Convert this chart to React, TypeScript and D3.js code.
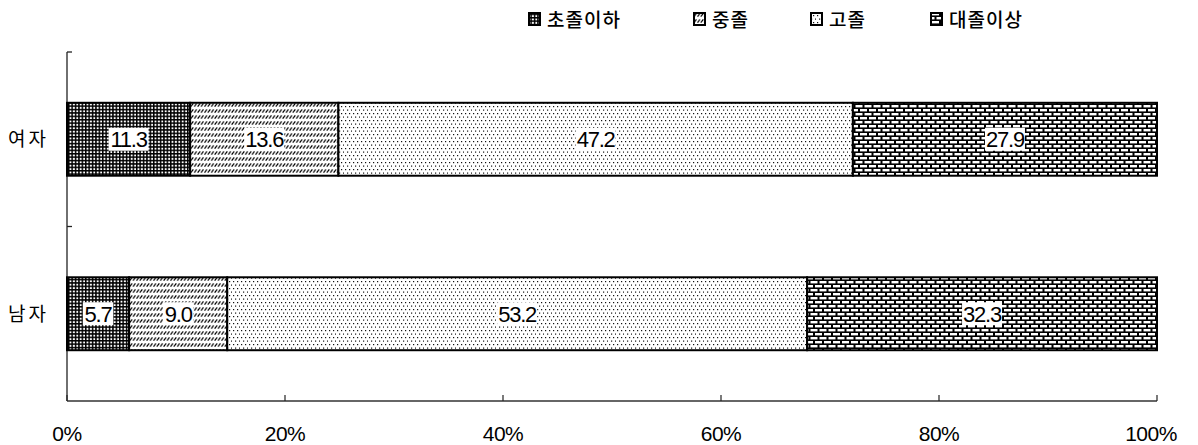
import React, { useEffect, useRef } from "react";
import * as d3 from "d3";

const categories = ["여자", "남자"];
const levels = ["초졸이하", "중졸", "고졸", "대졸이상"];
const femaleValues = [11.3, 13.6, 47.2, 27.9];
const maleValues = [5.7, 9.0, 53.2, 32.3];
const tickValues = [0, 20, 40, 60, 80, 100];

const seriesByCategory: Record<string, number[]> = {
  여자: femaleValues,
  남자: maleValues,
};

const patternIds = ["pat-grid", "pat-diag", "pat-dots", "pat-brick"];
const legendX = [529, 694, 811, 931];

const App: React.FC = () => {
  const ref = useRef<SVGSVGElement | null>(null);
  const width = 1198;
  const height = 445;

  useEffect(() => {
    const svg = d3.select(ref.current);
    svg.selectAll("*").remove();

    const defs = svg.append("defs");

    // 초졸이하: dense black grid with white holes
    const p1 = defs
      .append("pattern")
      .attr("id", patternIds[0])
      .attr("patternUnits", "userSpaceOnUse")
      .attr("width", 3.4)
      .attr("height", 3.4);
    p1.append("rect").attr("width", 3.4).attr("height", 3.4).attr("fill", "#000");
    p1.append("rect").attr("x", 1.5).attr("y", 1.5).attr("width", 1.9).attr("height", 1.9).attr("fill", "#fff");

    // 중졸: rows of short diagonal strokes
    const p2 = defs
      .append("pattern")
      .attr("id", patternIds[1])
      .attr("patternUnits", "userSpaceOnUse")
      .attr("width", 3.4)
      .attr("height", 6);
    p2.append("rect").attr("width", 3.4).attr("height", 6).attr("fill", "#fff");
    p2.append("path")
      .attr("d", "M0.5,4.6 L2.9,1.4")
      .attr("stroke", "#000")
      .attr("stroke-width", 1.2);

    // 고졸: sparse dots
    const p3 = defs
      .append("pattern")
      .attr("id", patternIds[2])
      .attr("patternUnits", "userSpaceOnUse")
      .attr("width", 8)
      .attr("height", 7);
    p3.append("rect").attr("width", 8).attr("height", 7).attr("fill", "#fff");
    [[1, 1], [5, 1], [3, 4.5], [7, 4.5]].forEach(([x, y]) =>
      p3.append("rect").attr("x", x).attr("y", y).attr("width", 1.2).attr("height", 1.2).attr("fill", "#111")
    );

    // 대졸이상: brick
    const p4 = defs
      .append("pattern")
      .attr("id", patternIds[3])
      .attr("patternUnits", "userSpaceOnUse")
      .attr("width", 9)
      .attr("height", 8);
    p4.append("rect").attr("width", 9).attr("height", 8).attr("fill", "#000");
    p4.append("rect").attr("x", 0.5).attr("y", 1).attr("width", 7).attr("height", 2.4).attr("fill", "#fff");
    p4.append("rect").attr("x", 5).attr("y", 5).attr("width", 7).attr("height", 2.4).attr("fill", "#fff");
    p4.append("rect").attr("x", -4).attr("y", 5).attr("width", 7).attr("height", 2.4).attr("fill", "#fff");

    const x = d3.scaleLinear().domain([0, 100]).range([67, 1157]);
    const y = d3
      .scaleBand<string>()
      .domain(categories)
      .range([52, 401])
      .paddingInner(0.582)
      .paddingOuter(0.291);

    // axes
    svg.append("line")
      .attr("x1", x(0)).attr("x2", x(0))
      .attr("y1", 52).attr("y2", 401)
      .attr("stroke", "#222").attr("stroke-width", 1.3);
    svg.append("line")
      .attr("x1", x(0)).attr("x2", x(100))
      .attr("y1", 401).attr("y2", 401)
      .attr("stroke", "#333").attr("stroke-width", 1.5);

    const bounds = [52, 52 + y.step()];
    bounds.forEach((b) =>
      svg.append("line")
        .attr("x1", x(0)).attr("x2", x(0) + 5)
        .attr("y1", b).attr("y2", b)
        .attr("stroke", "#222").attr("stroke-width", 1.3)
    );

    tickValues.forEach((t) => {
      svg.append("line")
        .attr("x1", x(t)).attr("x2", x(t))
        .attr("y1", 401).attr("y2", 395)
        .attr("stroke", "#222").attr("stroke-width", 1.2);
      svg.append("text")
        .attr("x", t === 100 ? x(t) - 6 : x(t))
        .attr("y", 441)
        .attr("text-anchor", "middle")
        .attr("font-family", "Liberation Sans Narrow, Liberation Sans, Arial, sans-serif")
        .attr("font-size", "21px")
        .attr("letter-spacing", "-0.5px")
        .attr("fill", "#000")
        .text(`${t}%`);
    });

    // bars
    categories.forEach((cat) => {
      const vals = seriesByCategory[cat];
      const y0 = y(cat) as number;
      const bh = y.bandwidth();
      let acc = 0;
      const g = svg.append("g");
      vals.forEach((v, i) => {
        const x0 = x(acc);
        const x1 = x(Math.min(100, acc + v));
        acc += v;
        g.append("rect")
          .attr("x", x0)
          .attr("y", y0)
          .attr("width", x1 - x0)
          .attr("height", bh)
          .attr("fill", `url(#${patternIds[i]})`)
          .attr("stroke", "#000")
          .attr("stroke-width", 2);

        const label = v.toFixed(1);
        const cx = (x0 + x1) / 2;
        const cy = y0 + bh / 2;
        const tw = label.length * 9.5;
        g.append("rect")
          .attr("x", cx - tw / 2 - 1)
          .attr("y", cy - 11.5)
          .attr("width", tw + 2)
          .attr("height", 23)
          .attr("fill", "#fff");
        g.append("text")
          .attr("x", cx)
          .attr("y", cy + 8)
          .attr("text-anchor", "middle")
          .attr("font-family", "Liberation Sans Narrow, Liberation Sans, Arial, sans-serif")
          .attr("font-size", "22px")
          .attr("letter-spacing", "-1.2px")
          .attr("fill", "#000")
          .text(label);
      });

      svg.append("text")
        .attr("x", 8)
        .attr("y", y0 + bh / 2 + 7)
        .attr("font-family", "Noto Sans CJK KR, sans-serif")
        .attr("font-size", "19px")
        .attr("letter-spacing", "3px")
        .attr("fill", "#000")
        .text(cat);
    });

    // legend
    levels.forEach((lv, i) => {
      const lx = legendX[i];
      svg.append("rect")
        .attr("x", lx)
        .attr("y", 13)
        .attr("width", 11)
        .attr("height", 12)
        .attr("fill", `url(#${patternIds[i]})`)
        .attr("stroke", "#000")
        .attr("stroke-width", 2);
      svg.append("text")
        .attr("x", lx + 18)
        .attr("y", 26.5)
        .attr("font-family", "Noto Sans CJK KR, sans-serif")
        .attr("font-size", "19px")
        .attr("font-weight", 500)
        .attr("letter-spacing", "1px")
        .attr("fill", "#000")
        .text(lv);
    });
  }, []);

  return (
    <svg
      ref={ref}
      width={width}
      height={height}
      style={{ position: "absolute", left: 0, top: 0, background: "#fff" }}
    ></svg>
  );
};

export default App;
